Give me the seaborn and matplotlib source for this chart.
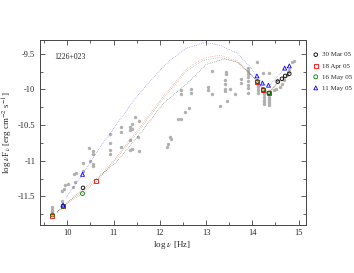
import matplotlib
matplotlib.use('Agg')
import matplotlib.pyplot as plt
import pandas as pd
import seaborn as sns
from matplotlib.ticker import MultipleLocator

# archival (grey) points
arch_x = [9.68, 9.68, 9.68, 9.68, 9.89, 9.88, 9.92, 9.95, 10.02, 10.12, 10.16, 10.14, 10.18,
          10.34, 10.34, 10.48, 10.50, 10.56, 10.56, 10.56, 10.56, 10.93, 10.93, 10.93, 10.93,
          11.16, 11.16, 11.16, 11.35, 11.35, 11.35, 11.35, 11.41, 11.41, 11.41, 11.46, 11.55,
          11.52, 11.55, 12.15, 12.18, 12.22, 12.24, 12.40, 12.45, 12.54, 12.64, 12.45, 12.45,
          12.67, 12.67, 13.05, 13.05, 13.12, 13.12, 13.30, 13.40, 13.40, 13.40, 13.40, 13.43, 13.43,
          13.45, 13.52, 13.63, 13.75, 13.75, 13.90, 13.90, 13.90, 13.90, 13.90, 13.90, 13.90,
          13.90, 14.10, 14.24, 14.36, 14.12, 14.12, 14.12, 14.12, 14.25, 14.25, 14.25, 14.25,
          14.25, 14.25, 14.37, 14.37, 14.37, 14.37, 14.37, 14.37, 14.46, 14.52, 14.59, 14.65,
          14.69, 14.76, 14.80, 14.85, 14.91, 14.77, 14.53]
arch_y = [-11.65, -11.68, -11.71, -11.74, -11.56, -11.42, -11.40, -11.34, -11.32, -11.37, -11.30,
          -11.18, -11.17, -11.03, -11.14, -10.82, -11.01, -10.86, -10.91, -11.04, -11.08, -10.63,
          -10.75, -10.85, -10.91, -10.53, -10.59, -10.80, -10.52, -10.57, -10.71, -10.85, -10.48,
          -10.56, -10.83, -10.39, -10.44, -10.67, -10.86, -10.80, -10.77, -10.67, -10.70, -10.42,
          -10.42, -10.32, -10.26, -10.01, -10.06, -10.00, -10.05, -9.96, -10.01, -9.74, -10.07,
          -10.23, -9.87, -9.92, -10.00, -10.02, -9.75, -9.78, -10.16, -10.00, -10.07, -9.85, -9.91,
          -9.70, -9.74, -9.78, -9.83, -9.88, -9.93, -9.98, -10.05, -9.61, -9.77, -9.77, -9.93,
          -9.97, -10.01, -10.05, -10.03, -10.07, -10.11, -10.15, -10.18, -10.21, -10.07, -10.10,
          -10.13, -10.16, -10.19, -10.22, -10.01, -10.00, -9.96, -9.92, -9.86, -9.80, -9.72,
          -9.62, -9.60, -9.76, -9.86]

# simultaneous points per epoch
mar_x = [9.91, 10.34, 14.11, 14.24, 14.36, 14.55, 14.64, 14.71, 14.80]
mar_y = [-11.64, -11.38, -9.89, -10.01, -10.05, -9.89, -9.85, -9.81, -9.78]
apr_x = [9.68, 9.91, 10.62, 14.11, 14.24, 14.36]
apr_y = [-11.78, -11.63, -11.28, -9.89, -10.01, -10.05]
may16_x = [9.68, 9.91, 10.33, 14.11, 14.24, 14.36]
may16_y = [-11.76, -11.64, -11.46, -9.89, -10.00, -10.05]
may11_x = [9.91, 10.33, 14.10, 14.22, 14.35, 14.70, 14.80]
may11_y = [-11.62, -11.19, -9.81, -9.91, -9.94, -9.70, -9.67]

# model curves
mod_x_red = [9.78, 9.91, 10.33, 10.63, 11.06, 11.57, 12.07, 12.58, 12.94, 13.30, 13.67,
             13.95, 14.11, 14.24, 14.36, 14.50, 14.65, 14.80]
mod_y_red = [-11.72, -11.63, -11.43, -11.28, -10.95, -10.53, -10.10, -9.71, -9.56, -9.52,
             -9.60, -9.77, -9.89, -10.00, -10.04, -9.94, -9.86, -9.78]
mod_y_green = [-11.72, -11.64, -11.46, -11.29, -10.97, -10.56, -10.13, -9.74, -9.59, -9.55,
               -9.62, -9.78, -9.89, -10.00, -10.04, -9.95, -9.87, -9.79]
mod_x_black = [9.78, 9.91, 10.33, 10.63, 11.06, 11.57, 12.07, 12.65, 13.00, 13.40, 13.70,
               13.95, 14.11, 14.24, 14.36, 14.55, 14.64, 14.71, 14.80]
mod_y_black = [-11.72, -11.64, -11.40, -11.25, -11.02, -10.62, -10.20, -9.88, -9.65, -9.57,
               -9.62, -9.78, -9.89, -10.01, -10.05, -9.89, -9.85, -9.81, -9.78]
mod_x_blue = [9.98, 10.34, 10.70, 10.92, 11.50, 12.00, 12.22, 12.58, 12.98, 13.30, 13.67,
              13.95, 14.11, 14.24, 14.36, 14.71, 14.81]
mod_y_blue = [-11.51, -11.18, -10.82, -10.62, -10.10, -9.73, -9.59, -9.42, -9.34, -9.38,
              -9.49, -9.68, -9.82, -9.93, -9.95, -9.70, -9.67]

labels = ['30 Mar 05', '18 Apr 05', '16 May 05', '11 May 05']
xticks = [10, 11, 12, 13, 14, 15]
yticks = [-9.5, -10, -10.5, -11, -11.5]
ytick_labels = ['-9.5', '-10', '-10.5', '-11', '-11.5']

sns.set_style('ticks')
plt.rcParams['font.family'] = ['Liberation Serif', 'DejaVu Serif']
plt.rcParams['mathtext.fontset'] = 'stix'

fig = plt.figure(figsize=(3.54, 2.73), dpi=100)
ax = fig.add_axes([0.1116, 0.176, 0.7514, 0.679])

sns.scatterplot(x=arch_x, y=arch_y, ax=ax, color='#b0b0b0', s=6, linewidth=0, zorder=2)

curves = [(mod_x_black, mod_y_black, 'black'), (mod_x_red, mod_y_red, 'red'),
          (mod_x_red, mod_y_green, 'green'), (mod_x_blue, mod_y_blue, 'blue')]
for cx, cy, c in curves:
    sns.lineplot(x=cx, y=cy, ax=ax, color=c, lw=0.5, ls=':', sort=False, estimator=None,
                 alpha=0.5, zorder=3)

pts = [(mar_x, mar_y, 'black', 'h'), (apr_x, apr_y, 'red', 's'),
       (may16_x, may16_y, 'green', 'o'), (may11_x, may11_y, 'blue', '^')]
for (px, py, c, m), lab in zip(pts, labels):
    ax.scatter(px, py, s=8, marker=m, facecolors='none', edgecolors=c, linewidths=0.6,
               zorder=4, label=lab)

ax.set_xlim(9.4, 15.15)
ax.set_ylim(-11.9, -9.3)
ax.set_xticks(xticks)
ax.set_xticklabels([str(t) for t in xticks])
ax.xaxis.set_minor_locator(MultipleLocator(0.5))
ax.set_yticks(yticks)
ax.set_yticklabels(ytick_labels)
ax.yaxis.set_minor_locator(MultipleLocator(0.25))
ax.tick_params(which='both', direction='in', top=True, right=True, labelsize=6, width=0.6,
               color='#444444', pad=3)
ax.tick_params(which='major', length=3.5)
ax.tick_params(which='minor', length=2)
for sp in ax.spines.values():
    sp.set_linewidth(0.7)
    sp.set_color('#444444')

ax.set_xlabel(r'log $\nu$ [Hz]', fontsize=6.5, labelpad=1)
ax.set_ylabel(r'log $\nu$F$_\nu$ [erg cm$^{-2}$ s$^{-1}$]', fontsize=6.5, labelpad=2)
ax.text(9.72, -9.55, '1226+023', fontsize=5.5, va='center')

ax.legend(loc='upper left', bbox_to_anchor=(1.015, 0.95), frameon=False, fontsize=5,
          handletextpad=0.4, labelspacing=0.75, borderaxespad=0, handlelength=1)

fig.savefig('out.png', dpi=100)
